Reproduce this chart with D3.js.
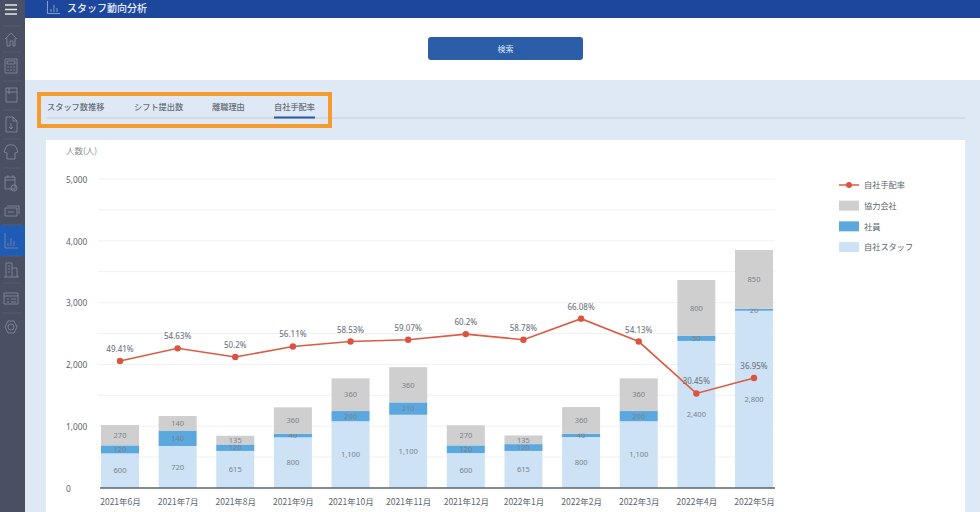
<!DOCTYPE html>
<html>
<head>
<meta charset="utf-8">
<script src="https://d3js.org/d3.v7.min.js"></script>
<style>
html,body{margin:0;padding:0;background:#fff;overflow:hidden}
svg{display:block}
text{font-family:"Noto Sans CJK JP","Noto Sans",sans-serif}
</style>
</head>
<body>
<div class="chart"></div>
<script>
// 月
const months = ['2021年6月','2021年7月','2021年8月','2021年9月','2021年10月','2021年11月','2021年12月','2022年1月','2022年2月','2022年3月','2022年4月','2022年5月']

// 棒の高さ
const ownStaff = [560,680,600,820,1080,1185,565,600,825,1080,2380,2868]
const employee = [130,250,105,55,165,200,125,110,55,165,86,32]
const partner = [330,235,140,430,530,570,325,140,430,530,899,951]

// 棒の中の表示ラベル
const ownStaffLabels = ['600','720','615','800','1,100','1,100','600','615','800','1,100','2,400','2,800']
const employeeLabels = ['120','140','120','40','200','210','120','120','40','200','50','20']
const partnerLabels = ['270','140','135','360','360','360','270','135','360','360','800','850']

// 折れ線（左軸上の位置で読み取り）と表示ラベル
const ratePlot = [2055,2260,2120,2290,2370,2400,2490,2400,2740,2370,1530,1780]
const rateLabels = ['49.41%','54.63%','50.2%','56.11%','58.53%','59.07%','60.2%','58.78%','66.08%','54.13%','30.45%','36.95%']

const yTicks = [0,1000,2000,3000,4000,5000]
const gridTicks = [500,1000,1500,2000,2500,3000,3500,4000,4500,5000]
const tabs = ['スタッフ数推移','シフト提出数','離職理由','自社手配率']
const tabX = [47,134,212,274]
const legendNames = ['自社手配率','協力会社','社員','自社スタッフ']

const colors = {own:'#cde2f4',emp:'#5aa8de',partner:'#cfcfcf',line:'#dc5b42',dot:'#dc5340'}

const svg = d3.select('.chart').append('svg').attr('width',980).attr('height',512)

// ページ背景
svg.append('rect').attr('width',980).attr('height',512).attr('fill','#fff')
svg.append('rect').attr('x',25).attr('y',80).attr('width',955).attr('height',432).attr('fill','#dfe9f6')
svg.append('rect').attr('x',46).attr('y',140).attr('width',919).attr('height',372).attr('fill','#fff')

// ヘッダー
svg.append('rect').attr('x',25).attr('width',955).attr('height',18).attr('fill','#1c479c')
svg.append('path').attr('d','M47.5 1V13.5H60M51 12V9M54 12V5M57 12V8').attr('fill','none').attr('stroke','#c8d6ee').attr('stroke-width',0.6)
svg.append('text').attr('x',67).attr('y',12).attr('fill','#e8eef8').style('font-size','10px').style('font-weight',500).text('スタッフ動向分析')

// 検索ボタン
svg.append('rect').attr('x',428).attr('y',37).attr('width',155).attr('height',23).attr('rx',3).attr('fill','#2b5da9')
svg.append('text').attr('x',505.5).attr('y',51.5).attr('text-anchor','middle').attr('fill','#dfe8f5').style('font-size','8px').text('検索')

// サイドバー
svg.append('rect').attr('width',25).attr('height',512).attr('fill','#4a5063')
svg.append('rect').attr('y',225).attr('width',25).attr('height',31).attr('fill','#1f5ab4')
svg.append('path').attr('d','M5 5H17M5 9.5H17M5 14H17').attr('stroke','#e4e6ea').attr('stroke-width',1.5)
const sepY = [26,52,81,110,139,168,225,256,283,313]
svg.append('g').selectAll('line').data(sepY).join('line')
   .attr('x1',3).attr('x2',21).attr('y1',d=>d).attr('y2',d=>d)
   .attr('stroke','#5d6476').attr('stroke-width',0.6)
const icons = [
  'M5 39L11 33L17 39M7 38V46H10V41H13V46H15V38',
  'M5 59H17V73H5ZM7 61H15V64H7ZM7 67H9M10 67H12M13 67H15M7 70H9M10 70H12M13 70H15',
  'M6 88H17V102H6ZM6 92H17M9 88V94',
  'M6 117H13L17 121V132H6ZM13 117V121H17M11 123L11 129M9 127L11 129L13 127',
  'M6 147C8 144 14 144 16 147L18 152L15 153V159H7V153L4 152Z',
  'M5 177H15V189H5ZM5 180H15M8 175V178M13 175V178M17 188A3 3 0 1 1 11 188A3 3 0 1 1 17 188',
  'M5 208H17V216H5ZM7 206H19V214M8 212H14',
  'M5 233V248H18M8 246V243M11 246V238M14 246V241',
  'M6 277V263H12V277M12 268H17V277M4 277H19M8 266H10M8 269H10M8 272H10',
  'M4 293H18V304H4ZM4 296H18M7 299H9M11 299H16M7 302H9M11 302H16',
  'M14 327A3 3 0 1 1 8 327A3 3 0 1 1 14 327M8 321L14 321L17 327L14 333L8 333L5 327Z'
]
svg.append('g').selectAll('path').data(icons).join('path')
   .attr('d',d=>d).attr('fill','none')
   .attr('stroke','#8f96a6').attr('stroke-width',0.7)

// タブ
svg.selectAll('.tab').data(tabs).join('text').attr('class','tab')
   .attr('x',(d,i)=>tabX[i]).attr('y',110)
   .attr('fill','#666d78').style('font-size','8.2px').style('font-weight',500)
   .text(d=>d)
svg.append('line').attr('x1',47).attr('x2',965).attr('y1',118).attr('y2',118).attr('stroke','#bcc6d2').attr('stroke-width',0.8)
svg.append('line').attr('x1',274).attr('x2',315).attr('y1',117.5).attr('y2',117.5).attr('stroke','#2658a6').attr('stroke-width',2)
svg.append('rect').attr('x',39).attr('y',94).attr('width',291).attr('height',32).attr('fill','none').attr('stroke','#f49c2e').attr('stroke-width',4)

// 軸のスケール
const xScale = d3.scalePoint().domain(months).range([120,754])
const yScale = d3.scaleLinear().domain([0,5000]).range([488,179])
const barWidth = 38
const fmt = d3.format(',')

// 格子線
svg.append('g').selectAll('line').data(gridTicks).join('line')
   .attr('x1',98).attr('x2',775)
   .attr('y1',d=>yScale(d)).attr('y2',d=>yScale(d))
   .attr('stroke','#f1f1f1').attr('stroke-width',1)

// Y軸
const yAxis = d3.axisLeft(yScale).tickValues(yTicks).tickSize(0).tickPadding(0).tickFormat(fmt)
const yAxisGroup = svg.append('g').attr('transform','translate(66,0.7)').call(yAxis)
yAxisGroup.select('.domain').remove()
yAxisGroup.selectAll('text').attr('text-anchor','start').attr('fill','#5d646f').style('font-size','8.3px').style('font-family','"Noto Sans",sans-serif')
svg.append('text').attr('x',66).attr('y',154).attr('fill','#8a8f98').style('font-size','8.5px').text('人数(人)')

// 積み上げ棒
const stack = d3.stack().keys(['own','emp','partner'])
const rows = months.map((m,i)=>({month:m,own:ownStaff[i],emp:employee[i],partner:partner[i]}))
const labelSets = {own:ownStaffLabels,emp:employeeLabels,partner:partnerLabels}

const layers = svg.append('g').selectAll('g').data(stack(rows)).join('g')
layers.selectAll('rect').data(d=>d.map(v=>({v,key:d.key}))).join('rect')
   .attr('x',d=>xScale(d.v.data.month)-barWidth/2)
   .attr('y',d=>yScale(d.v[1]))
   .attr('width',barWidth)
   .attr('height',d=>yScale(d.v[0])-yScale(d.v[1]))
   .attr('fill',d=>colors[d.key])
layers.selectAll('text').data(d=>d.map((v,i)=>({v,i,key:d.key}))).join('text')
   .attr('x',d=>xScale(d.v.data.month))
   .attr('y',d=>(yScale(d.v[0])+yScale(d.v[1]))/2+2.8)
   .attr('text-anchor','middle')
   .attr('fill','#7b818b')
   .style('font-size','7.5px')
   .style('font-family','"Noto Sans",sans-serif')
   .text(d=>labelSets[d.key][d.i])

// X軸
const xAxis = d3.axisBottom(xScale).tickSize(0).tickPadding(11)
const xAxisGroup = svg.append('g').attr('transform','translate(0,488)').call(xAxis)
xAxisGroup.select('.domain').remove()
xAxisGroup.selectAll('text').attr('fill','#5d646f').style('font-size','8.5px').style('font-family','"Noto Sans CJK JP",sans-serif')
svg.append('line').attr('x1',100).attr('x2',775).attr('y1',488).attr('y2',488).attr('stroke','#5c6470').attr('stroke-width',1.5)

// 折れ線
const line = d3.line().x((d,i)=>xScale(months[i])).y(d=>yScale(d))
svg.append('path').datum(ratePlot).attr('d',line).attr('fill','none').attr('stroke',colors.line).attr('stroke-width',1.6)
svg.append('g').selectAll('circle').data(ratePlot).join('circle')
   .attr('cx',(d,i)=>xScale(months[i])).attr('cy',d=>yScale(d)).attr('r',3.2).attr('fill',colors.dot)
svg.append('g').selectAll('text').data(ratePlot).join('text')
   .attr('x',(d,i)=>xScale(months[i])).attr('y',d=>yScale(d)-9)
   .attr('text-anchor','middle').attr('fill','#757c87')
   .style('font-size','8px').style('font-weight',500)
   .style('font-family','"Noto Sans",sans-serif')
   .text((d,i)=>rateLabels[i])

// 凡例
const legendY = d3.scalePoint().domain(legendNames).range([185,247])
const legendFill = [null,colors.partner,colors.emp,colors.own]
const legend = svg.append('g').selectAll('g').data(legendNames).join('g')
   .attr('transform',d=>`translate(839,${legendY(d)})`)
legend.filter((d,i)=>i>0).append('rect')
   .attr('y',-5).attr('width',20).attr('height',10)
   .attr('fill',d=>legendFill[legendNames.indexOf(d)])
legend.filter((d,i)=>i===0).append('line').attr('x2',20).attr('stroke',colors.line).attr('stroke-width',1.5)
legend.filter((d,i)=>i===0).append('circle').attr('cx',10).attr('r',3).attr('fill',colors.dot)
legend.append('text').attr('x',25).attr('y',3.2).attr('fill','#5d646f').style('font-size','8.2px').text(d=>d)
</script>
</body>
</html>
